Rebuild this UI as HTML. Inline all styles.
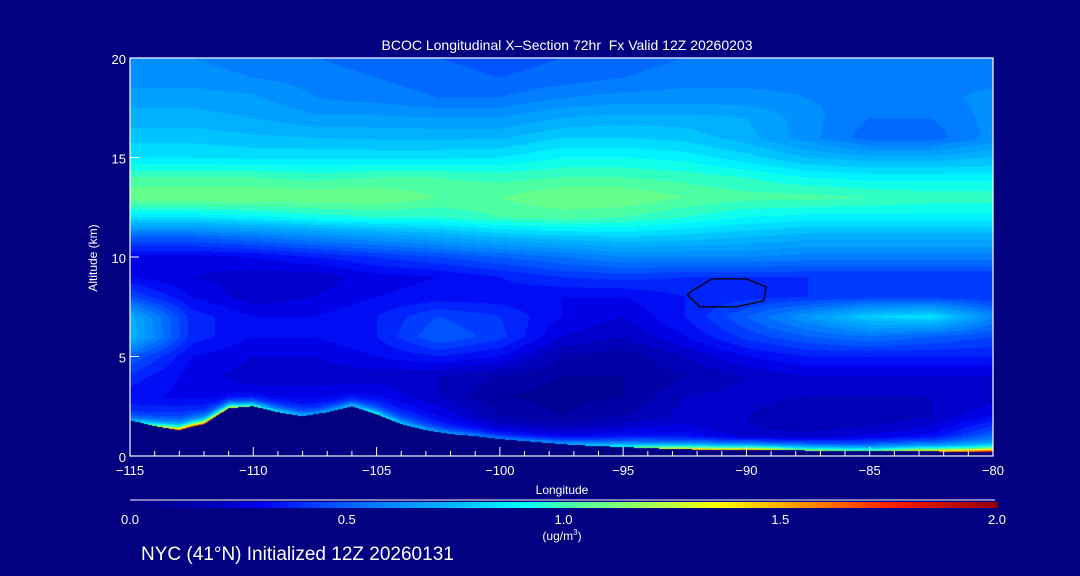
<!DOCTYPE html>
<html><head><meta charset="utf-8">
<style>
html,body{margin:0;padding:0;background:#000080;}
#wrap{position:relative;width:1080px;height:576px;background:#000080;overflow:hidden;font-family:"Liberation Sans",sans-serif;color:#fff;}
.t{position:absolute;white-space:nowrap;font-size:13px;line-height:1;}
canvas{position:absolute;left:130px;top:58px;}
</style></head>
<body>
<div id="wrap">
<div class="t" style="left:567px;top:38px;transform:translateX(-50%);font-size:14px;">BCOC Longitudinal X–Section 72hr&nbsp;&nbsp;Fx Valid 12Z 20260203</div>
<canvas id="cv" width="863" height="398"></canvas>
<svg id="ax" width="1080" height="576" style="position:absolute;left:0;top:0"></svg>
<div class="t" style="left:93px;top:258px;transform:translate(-50%,-50%) rotate(-90deg);font-size:12px;">Altitude (km)</div>
<div class="t" style="left:562px;top:484px;transform:translateX(-50%);font-size:12px;">Longitude</div>
<div class="t" style="left:562px;top:529px;transform:translateX(-50%);font-size:12px;">(ug/m<sup style="font-size:8px">3</sup>)</div>
<div class="t" style="left:141px;top:545px;font-size:19px;">NYC (41°N) Initialized 12Z 20260131</div>
</div>
<script>
const lons=[-115,-112.5,-110,-107.5,-105,-102.5,-100,-97.5,-95,-92.5,-90,-87.5,-85,-82.5,-80];
const alts=[20,19,18,17,16,15,14,13,12,11,10,9,8,7,6,5,4,3,2,1,0];
const conc=[
[.6,.6,.58,.55,.52,.5,.48,.5,.52,.55,.55,.55,.55,.55,.55],
[.62,.62,.6,.58,.55,.52,.5,.52,.55,.58,.58,.58,.58,.58,.58],
[.68,.68,.66,.6,.58,.55,.55,.6,.62,.62,.62,.6,.58,.58,.62],
[.72,.72,.7,.66,.66,.65,.65,.7,.72,.72,.7,.62,.55,.55,.62],
[.78,.78,.76,.75,.74,.74,.74,.8,.8,.78,.72,.62,.52,.52,.62],
[.85,.85,.84,.84,.84,.84,.85,.9,.9,.88,.82,.75,.72,.72,.75],
[1.0,1.0,1.0,.98,1.0,1.0,.98,1.0,1.0,.98,.95,.9,.88,.88,.88],
[1.1,1.1,1.1,1.1,1.1,1.05,1.05,1.1,1.1,1.05,1.02,1.02,1.0,.98,.98],
[.85,.85,.88,.92,.95,.95,1.0,1.02,1.0,.95,.9,.88,.88,.88,.88],
[.5,.5,.55,.6,.65,.7,.75,.78,.8,.78,.75,.72,.72,.72,.72],
[.28,.28,.3,.35,.4,.45,.5,.55,.6,.6,.6,.58,.58,.58,.58],
[.3,.25,.22,.22,.28,.3,.35,.4,.42,.4,.4,.4,.4,.4,.4],
[.45,.3,.22,.25,.3,.32,.32,.3,.3,.35,.38,.4,.42,.42,.4],
[.72,.38,.3,.3,.35,.45,.4,.3,.25,.35,.5,.65,.8,.85,.6],
[.75,.38,.3,.3,.35,.5,.42,.25,.2,.3,.42,.5,.55,.5,.45],
[.5,.3,.25,.25,.3,.35,.3,.15,.12,.2,.3,.35,.35,.35,.35],
[.38,.28,.22,.22,.22,.2,.15,.1,.1,.15,.2,.25,.25,.25,.25],
[.32,.28,.28,.28,.3,.2,.1,.08,.1,.2,.22,.2,.2,.2,.22],
[.38,.42,.45,.4,.45,.3,.15,.1,.15,.22,.2,.15,.15,.2,.3],
[.5,.6,.6,.5,.5,.4,.3,.25,.3,.3,.2,.2,.25,.3,.5],
[.6,.8,.7,.6,.6,.6,.5,.5,.6,.6,.6,.6,.6,.6,.7]];
const surfConc=[.7,1.9,1.1,.7,1.0,.7,.6,.7,1.0,1.5,1.6,1.2,1.1,1.5,2.0];
const terrainLons=[-115,-114,-113,-112,-111,-110,-109,-108,-107,-106,-105,-104,-103,-102,-101,-100,-99,-98,-97,-96,-95,-94,-93,-92,-91,-90,-89,-88,-87,-86,-85,-84,-83,-82,-81,-80];
const terrainKm=[1.8,1.5,1.3,1.6,2.4,2.5,2.2,2.0,2.2,2.5,2.1,1.6,1.3,1.1,1.0,0.85,0.75,0.65,0.55,0.5,0.45,0.4,0.35,0.32,0.3,0.3,0.3,0.28,0.27,0.26,0.25,0.25,0.25,0.22,0.2,0.2];
const xTicks=[-115,-110,-105,-100,-95,-90,-85,-80];
const yTicks=[0,5,10,15,20];
const cbTicks=[0.0,0.5,1.0,1.5,2.0];

const X0=130,X1=993,Y0=58,Y1=456,LMIN=-115,LMAX=-80,AMAX=20;
const xs=l=>X0+(l-LMIN)/(LMAX-LMIN)*(X1-X0);
const ys=a=>Y1-a/AMAX*(Y1-Y0);
const stops=[[0,[0,0,122]],[0.2,[0,0,192]],[0.3,[0,0,240]],[0.4,[0,48,255]],[0.5,[0,96,255]],[0.6,[0,136,255]],[0.75,[0,184,255]],[0.9,[0,255,255]],[1.0,[64,255,176]],[1.1,[112,255,128]],[1.25,[192,255,64]],[1.35,[255,255,0]],[1.5,[255,176,0]],[1.75,[255,32,0]],[2.0,[144,0,0]]];
function cmap(v){v=Math.max(0,Math.min(2,v));for(let i=1;i<stops.length;i++){if(v<=stops[i][0]){const a=stops[i-1],b=stops[i],t=(v-a[0])/(b[0]-a[0]);return a[1].map((c,k)=>Math.round(c+(b[1][k]-c)*t));}}return stops[stops.length-1][1];}
function interp1(xa,ya,x){if(x<=xa[0])return ya[0];for(let i=1;i<xa.length;i++){if(x<=xa[i]){const t=(x-xa[i-1])/(xa[i]-xa[i-1]);return ya[i-1]+(ya[i]-ya[i-1])*t;}}return ya[ya.length-1];}
function field(l,a){
  let ci=(l-lons[0])/(lons[1]-lons[0]);ci=Math.max(0,Math.min(lons.length-1.001,ci));
  let ri=(alts[0]-a);ri=Math.max(0,Math.min(alts.length-1.001,ri));
  const c=Math.floor(ci),r=Math.floor(ri),u=ci-c,w=ri-r;
  return conc[r][c]*(1-u)*(1-w)+conc[r][c+1]*u*(1-w)+conc[r+1][c]*(1-u)*w+conc[r+1][c+1]*u*w;
}
const cv=document.getElementById('cv'),ctx=cv.getContext('2d');
const W=cv.width,H=cv.height,img=ctx.createImageData(W,H);
for(let px=0;px<W;px++){
  const l=LMIN+(px+0.5)/W*(LMAX-LMIN);
  const tz=interp1(terrainLons,terrainKm,l);
  const sv=interp1(lons,surfConc,l);
  for(let py=0;py<H;py++){
    const a=(H-py-0.5)/H*AMAX;let col;
    if(a<tz){col=[0,0,128];}
    else{let v=field(l,a);const d=a-tz;v=v+Math.max(0,sv-v)*Math.exp(-d/0.2);
      v=Math.floor(v/0.05)*0.05+0.025;col=cmap(v);}
    const k=(py*W+px)*4;img.data[k]=col[0];img.data[k+1]=col[1];img.data[k+2]=col[2];img.data[k+3]=255;}
}
ctx.putImageData(img,0,0);

const NS='http://www.w3.org/2000/svg',svg=document.getElementById('ax');
function mk(tag,at){const e=document.createElementNS(NS,tag);for(const k in at)e.setAttribute(k,at[k]);svg.appendChild(e);return e;}
let e;
e=mk('rect',{x:X0,y:Y0,width:X1-X0,height:Y1-Y0,fill:'none',stroke:'#fff','stroke-width':1.2});


for(let l=LMIN;l<=LMAX;l++){const maj=(l%5===0);
  e=mk('line',{x1:xs(l),x2:xs(l),y1:Y1,y2:Y1-(maj?9:5),stroke:'#fff','stroke-width':1});
  
  }
xTicks.forEach(l=>{e=mk('text',{x:xs(l),y:Y1+19,fill:'#fff','font-size':13,'text-anchor':'middle','font-family':'Liberation Sans, sans-serif'});e.textContent=(l<0?'−':'')+Math.abs(l);
  
  });
yTicks.forEach(a=>{e=mk('line',{x1:X0,x2:X0+9,y1:ys(a),y2:ys(a),stroke:'#fff'});
  
  
  e=mk('text',{x:X0-4,y:ys(a)+6,fill:'#fff','font-size':13,'text-anchor':'end','font-family':'Liberation Sans, sans-serif'});e.textContent=a;
  
  });
const defs=mk('defs',{});const g=document.createElementNS(NS,'linearGradient');g.setAttribute('id','cbg');defs.appendChild(g);
stops.forEach(s=>{const st=document.createElementNS(NS,'stop');st.setAttribute('offset',(s[0]/2*100)+'%');st.setAttribute('stop-color','rgb('+s[1].join(',')+')');g.appendChild(st);});
e=mk('line',{x1:130,x2:995,y1:500,y2:500,stroke:'#fff'});


e=mk('rect',{x:130,y:502,width:868,height:6,fill:'url(#cbg)'});


cbTicks.forEach(v=>{e=mk('text',{x:130+v/2*867,y:524,fill:'#fff','font-size':13,'text-anchor':'middle','font-family':'Liberation Sans, sans-serif'});e.textContent=v.toFixed(1);
  
  });
e=mk('path',{d:'M'+[[-92.2,8.3],[-91.4,8.9],[-90,8.9],[-89.2,8.5],[-89.3,7.8],[-90.4,7.5],[-91.9,7.5],[-92.4,8.1]].map(p=>xs(p[0])+','+ys(p[1])).join(' L')+'Z',fill:'none',stroke:'#000','stroke-width':1.3});


</script>
</body></html>
